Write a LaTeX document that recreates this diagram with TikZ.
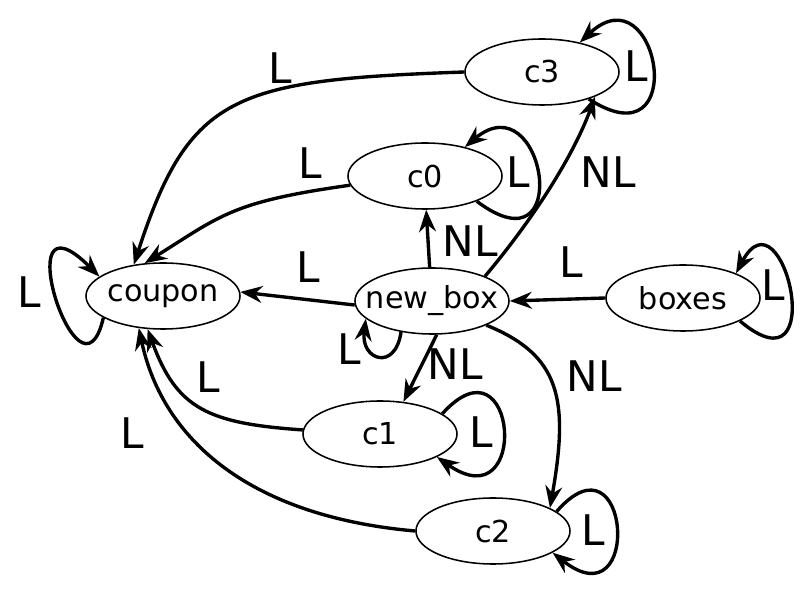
\documentclass[tikz,border=0pt]{standalone}
\usepackage{fontspec}
\setmainfont{DejaVu Sans}
\usetikzlibrary{arrows.meta, shapes.geometric}

\begin{document}
\begin{tikzpicture}[
    x=0.025cm, y=0.025cm,
    state/.style={draw, ellipse, line width=1.1pt, minimum width=3.85cm, minimum height=1.65cm,
                  inner xsep=-0.3cm, inner ysep=0pt, font=\fontsize{21.5}{25}\selectfont},
    lbl/.style={font=\fontsize{30}{36}\selectfont, inner sep=0pt},
    flow/.style={-{Stealth[length=0.55cm, width=0.42cm, inset=0.18cm]}, line width=2.4pt},
]
    \useasboundingbox (0,0) rectangle (811,606);

    %==================== STATES ====================
    \node[state] (coupon) at (163,310) {coupon};
    \node[state] (new_box) at (432,305) {new\_box};
    \node[state] (boxes) at (683,308) {boxes};
    \node[state] (c3) at (542,534) {c3};
    \node[state] (c0) at (425,430) {c0};
    \node[state] (c1) at (380,172) {c1};
    \node[state] (c2) at (493,75) {c2};

    %==================== into coupon ====================
    \draw[flow] (c3.west) .. controls +(182:230) and +(72:180) .. (coupon.133);
    \node[lbl] (l3) at (280,538) {L};
    \draw[flow] (c0.187) .. controls +(188:120) and +(32:90) .. (coupon.119);
    \node[lbl] (l0) at (310,443) {L};
    \draw[flow] (new_box.183) -- (coupon.3);
    \node[lbl] (lnb) at (308,339) {L};
    \draw[flow] (c1.177) .. controls +(176:95) and +(-70:85) .. (coupon.245);
    \node[lbl] (l1) at (208,229) {L};
    \draw[flow] (c2.west) .. controls +(175:165) and +(-78:115) .. (coupon.233);
    \node[lbl] (l2) at (132,173) {L};
    \draw[flow] (coupon.200) .. controls +(257:105) and +(135:135) .. (coupon.163);
    \node[lbl] (lcp) at (29,314) {L};

    %==================== out of new_box ====================
    \draw[flow] (new_box.94) -- (c0.272);
    \node[lbl] (nl0) at (470,365) {NL};
    \draw[flow] (new_box.25) .. controls +(50:80) and +(250:60) .. (c3.-25);
    \node[lbl] (nl3) at (608,434) {NL};
    \draw[flow] (new_box.-82) -- (c1.54);
    \node[lbl] (nl1) at (455,242) {NL};
    \draw[flow] (new_box.-24) .. controls +(-22:80) and +(80:110) .. (c2.22);
    \node[lbl] (nl2) at (594,230) {NL};
    \draw[flow] (new_box.225) .. controls +(262:40) and +(263:42) .. (new_box.195);
    \node[lbl] (lnbl) at (349,257) {L};

    %==================== boxes ====================
    \draw[flow] (boxes.west) -- (new_box.east);
    \node[lbl] (lbx) at (571,344) {L};
    \draw[flow] (boxes.-22) .. controls +(-40:120) and +(62:100) .. (boxes.25);
    \node[lbl] (lbxl) at (773,321) {L};

    %==================== self loops ====================
    \draw[flow] (c3.-30) .. controls +(-33:123) and +(43:108) .. (c3.38);
    \node[lbl] (lc3) at (636,540) {L};
    \draw[flow] (c0.-26) .. controls +(-37:124) and +(40:104) .. (c0.36);
    \node[lbl] (lc0) at (518,434) {L};
    \draw[flow] (c1.18) .. controls +(48:112) and +(-35:115) .. (c1.-22);
    \node[lbl] (lc1) at (481,174) {L};
    \draw[flow] (c2.17) .. controls +(49:112) and +(-38:115) .. (c2.-20);
    \node[lbl] (lc2) at (593,76) {L};

\end{tikzpicture}
\end{document}
